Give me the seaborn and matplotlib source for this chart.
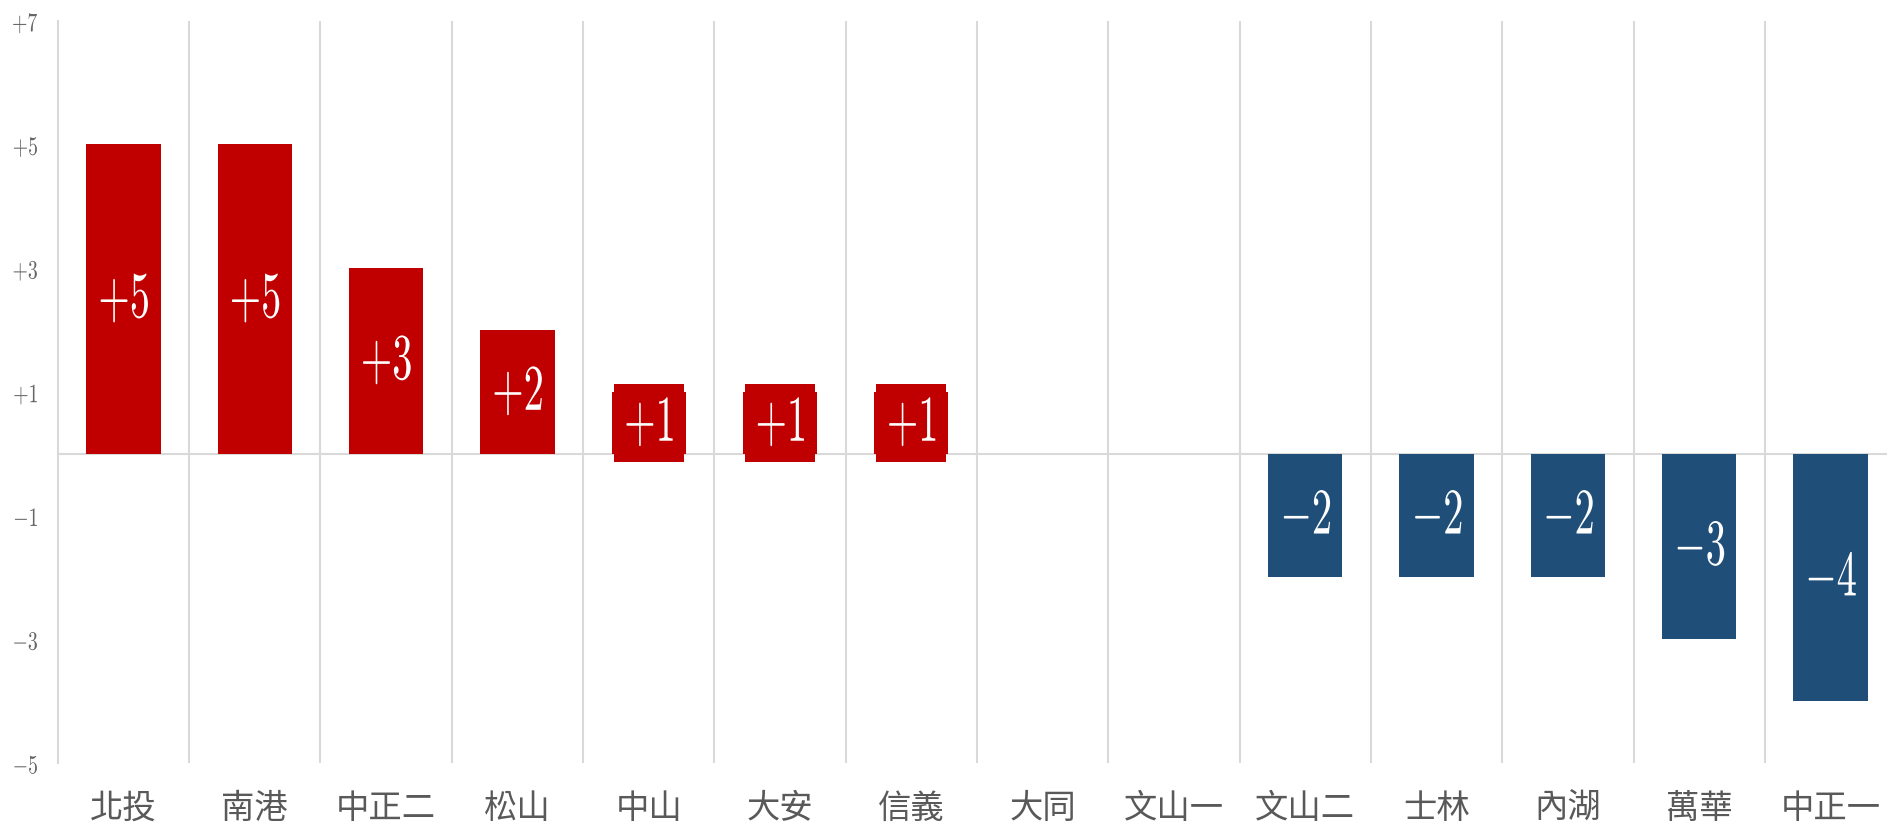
import numpy as np
import pandas as pd
import matplotlib
matplotlib.use("Agg")
import matplotlib.pyplot as plt
import seaborn as sns
from matplotlib.patheffects import AbstractPathEffect
from matplotlib.transforms import Affine2D

# seat change per district
districts = ["北投", "南港", "中正二", "松山", "中山", "大安", "信義",
             "大同", "文山一", "文山二", "士林", "內湖", "萬華", "中正一"]
seat_change = [5, 5, 3, 2, 1, 1, 1, 0, 0, -2, -2, -2, -3, -4]
y_ticks = [-5, -3, -1, 1, 3, 5, 7]
y_tick_labels = ["$-5$", "$-3$", "$-1$", "$+1$", "$+3$", "$+5$", "$+7$"]

GAIN = "#C00000"
LOSS = "#1F4E79"
GRID = "#D9D9D9"


class Squeeze(AbstractPathEffect):
    """Squeeze a path horizontally (the original uses a narrow, tall serif)."""

    def __init__(self, sx=1.0, width_px=None, anchor="center"):
        super().__init__()
        self.sx = sx
        self.width_px = width_px
        self.anchor = anchor

    def draw_path(self, renderer, gc, tpath, affine, rgbFace=None):
        ext = tpath.get_extents(affine)
        sx = self.sx if self.width_px is None else self.width_px / ext.width
        x0 = ext.x1 if self.anchor == "right" else (ext.x0 + ext.x1) / 2
        affine = affine + Affine2D().translate(-x0, 0).scale(sx, 1).translate(x0, 0)
        renderer.draw_path(gc, tpath, affine, rgbFace)


df = pd.DataFrame({"district": districts, "change": seat_change})
df["color"] = np.where(df["change"] >= 0, GAIN, LOSS)

sns.set_style("white")
plt.rcParams["font.family"] = ["Noto Sans CJK TC", "DejaVu Sans"]
plt.rcParams["mathtext.fontset"] = "cm"

fig = plt.figure(figsize=(18.87, 8.26), dpi=100)
ax = fig.add_axes([0.0306, 0.0763, 0.9694, 0.8987])

sns.barplot(data=df, x="district", y="change", hue="district",
            palette=list(df["color"]), width=0.566, saturation=1,
            linewidth=0, legend=False, ax=ax, zorder=2)

ax.axhline(0, color=GRID, lw=1.5, zorder=1)

# vertical separators between districts
ax.set_xticks(np.arange(len(districts) - 1) + 0.5, minor=True)
ax.grid(axis="x", which="minor", color=GRID, lw=1.5)
ax.grid(axis="x", which="major", visible=False)
ax.grid(axis="y", visible=False)
ax.set_axisbelow(True)

for side in ["top", "right", "bottom"]:
    ax.spines[side].set_visible(False)
ax.spines["left"].set_color(GRID)
ax.spines["left"].set_linewidth(1.5)

ax.set_yticks(y_ticks)
ax.set_yticklabels(y_tick_labels)
ax.tick_params(axis="x", which="both", length=0, pad=20,
               labelsize=24, labelcolor="#595959")
ax.tick_params(axis="y", length=4.5, width=1.2, color=GRID, pad=9,
               labelsize=19, labelcolor="#666666")
for lab in ax.get_xticklabels():
    lab.set_fontweight("medium")
for lab in ax.get_yticklabels():
    lab.set_path_effects([Squeeze(sx=0.75, anchor="right")])
ax.set_xlabel("")
ax.set_ylabel("")
ax.set_xlim(-0.5, 13.43)
ax.set_ylim(-5, 7)

# value labels in the middle of each bar
for i, (v, c) in enumerate(zip(df["change"], df["color"])):
    if v == 0:
        continue
    t = ax.text(i, v / 2, f"${v:+d}$", ha="center", va="center",
                fontsize=47, color="white", zorder=3,
                bbox=dict(boxstyle="square,pad=0.09", fc=c, ec="none"))
    t.set_path_effects([Squeeze(sx=0.62)])
    t.get_bbox_patch().set_path_effects([Squeeze(width_px=70)])

fig.savefig("out.png", dpi=100)
